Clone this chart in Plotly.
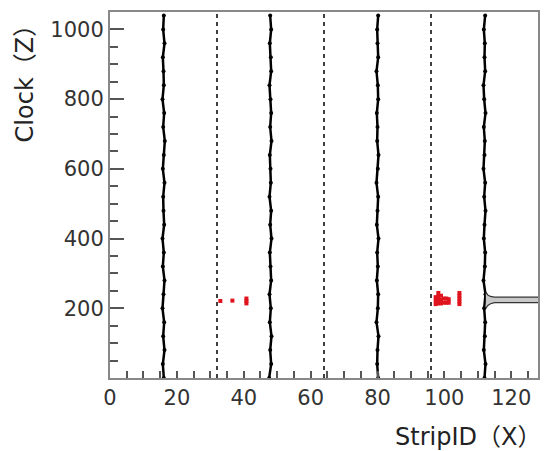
import plotly.graph_objects as go

# ---- data ----
strip_positions = [16, 48, 80, 112]          # black hit tracks
boundary_positions = [32, 64, 96]            # dashed boundaries
clock_samples = [0, 40, 80, 120, 160, 200, 240, 280, 320, 360, 400, 440, 480, 520,
                 560, 600, 640, 680, 720, 760, 800, 840, 880, 920, 960, 1000, 1040]
track_offsets = [
    [0.1, -0.2, 0.3, -0.1, 0.2, -0.3, 0.0, 0.3, -0.2, 0.1, -0.3, 0.2, 0.0, -0.1,
     0.3, -0.2, 0.1, 0.4, -0.1, 0.2, -0.3, 0.1, 0.0, -0.2, 0.3, -0.1, 0.1],
    [-0.4, 0.2, -0.1, 0.3, -0.2, 0.1, -0.3, 0.2, 0.0, -0.2, 0.3, -0.1, 0.2, -0.3,
     0.1, 0.0, -0.2, 0.3, -0.1, 0.2, 0.0, -0.3, 0.2, 0.1, -0.2, 0.2, -0.1],
    [0.2, -0.1, 0.0, 0.3, -0.3, 0.1, 0.2, -0.2, 0.1, -0.1, 0.3, -0.2, 0.0, 0.2,
     -0.3, 0.1, 0.3, -0.1, 0.0, -0.2, 0.2, 0.1, -0.3, 0.2, 0.0, -0.1, 0.2],
    [0.0, 0.3, -0.2, 0.1, 0.2, -0.1, 0.3, -0.3, 0.1, 0.2, -0.2, 0.0, 0.3, -0.1,
     0.2, -0.3, 0.0, 0.1, -0.2, 0.3, -0.1, -0.3, 0.2, 0.0, 0.1, -0.2, 0.2],
]
hit_x = [33.0, 36.6, 40.8, 40.8, 40.8,
         97.4, 97.4, 97.4, 98.2, 98.2, 98.2, 98.2, 99.0, 99.0, 99.0, 99.8, 99.8,
         100.6, 100.6, 101.3, 101.3, 104.5, 104.5, 104.5, 104.5, 104.5]
hit_y = [221, 222, 214, 221, 228,
         212, 222, 232, 214, 224, 234, 244, 214, 224, 236, 216, 228,
         216, 228, 216, 226, 212, 220, 228, 236, 244]
tube_x = [112.4, 113.0, 113.8, 115.0, 128.0]
tube_top = [246, 238, 234, 232, 232]
tube_bottom = [200, 208, 213, 216, 216]

x_ticks = [0, 20, 40, 60, 80, 100, 120]
y_ticks = [200, 400, 600, 800, 1000]

fig = go.Figure()

for bx in boundary_positions:
    fig.add_trace(go.Scatter(x=[bx, bx], y=[0, 1050], mode="lines",
                             line=dict(color="black", width=1.5, dash="4px,4px"),
                             showlegend=False, hoverinfo="skip"))

for sx, offs in zip(strip_positions, track_offsets):
    fig.add_trace(go.Scatter(x=[sx + o for o in offs], y=clock_samples,
                             mode="lines+markers",
                             line=dict(color="black", width=2.5),
                             marker=dict(color="black", size=4),
                             showlegend=False, hoverinfo="skip"))

fig.add_trace(go.Scatter(x=tube_x, y=tube_bottom, mode="lines",
                         line=dict(color="#333", width=1.2),
                         showlegend=False, hoverinfo="skip"))
fig.add_trace(go.Scatter(x=tube_x, y=tube_top, mode="lines", fill="tonexty",
                         fillcolor="#c8c8c8",
                         line=dict(color="#333", width=1.2),
                         showlegend=False, hoverinfo="skip"))

fig.add_trace(go.Scatter(x=hit_x, y=hit_y, mode="markers",
                         marker=dict(color="#e0141e", size=4, symbol="square"),
                         showlegend=False, hoverinfo="skip"))

axis_common = dict(showline=True, linecolor="#888", linewidth=2, mirror=True,
                   showgrid=False, zeroline=False, ticks="inside",
                   tickcolor="#555", tickwidth=1.5,
                   tickfont=dict(family="DejaVu Sans", size=21, color="#333"))

fig.update_xaxes(range=[0, 128], tickvals=x_ticks, ticklen=7,
                 minor=dict(dtick=5, tick0=0, ticklen=7, ticks="inside",
                            tickcolor="#555", tickwidth=1.5),
                 **axis_common)
fig.update_yaxes(range=[0, 1050], tickvals=y_ticks, ticklen=14,
                 minor=dict(dtick=50, tick0=0, ticklen=8, ticks="inside",
                            tickcolor="#555", tickwidth=1.5),
                 **axis_common)

title_font = dict(family="DejaVu Sans, Noto Sans CJK JP", size=24, color="#222")
fig.add_annotation(text="Clock（Z）", xref="paper", yref="paper",
                   x=-0.198, y=1.005, xanchor="center", yanchor="top",
                   textangle=-90, showarrow=False, font=title_font)
fig.add_annotation(text="StripID（X）", xref="paper", yref="paper",
                   x=1.012, y=-0.161, xanchor="right", yanchor="middle",
                   showarrow=False, font=title_font)

fig.update_layout(width=545, height=451, margin=dict(l=110, r=5, t=12, b=73),
                  plot_bgcolor="white", paper_bgcolor="white")

fig.write_html("out.html")
